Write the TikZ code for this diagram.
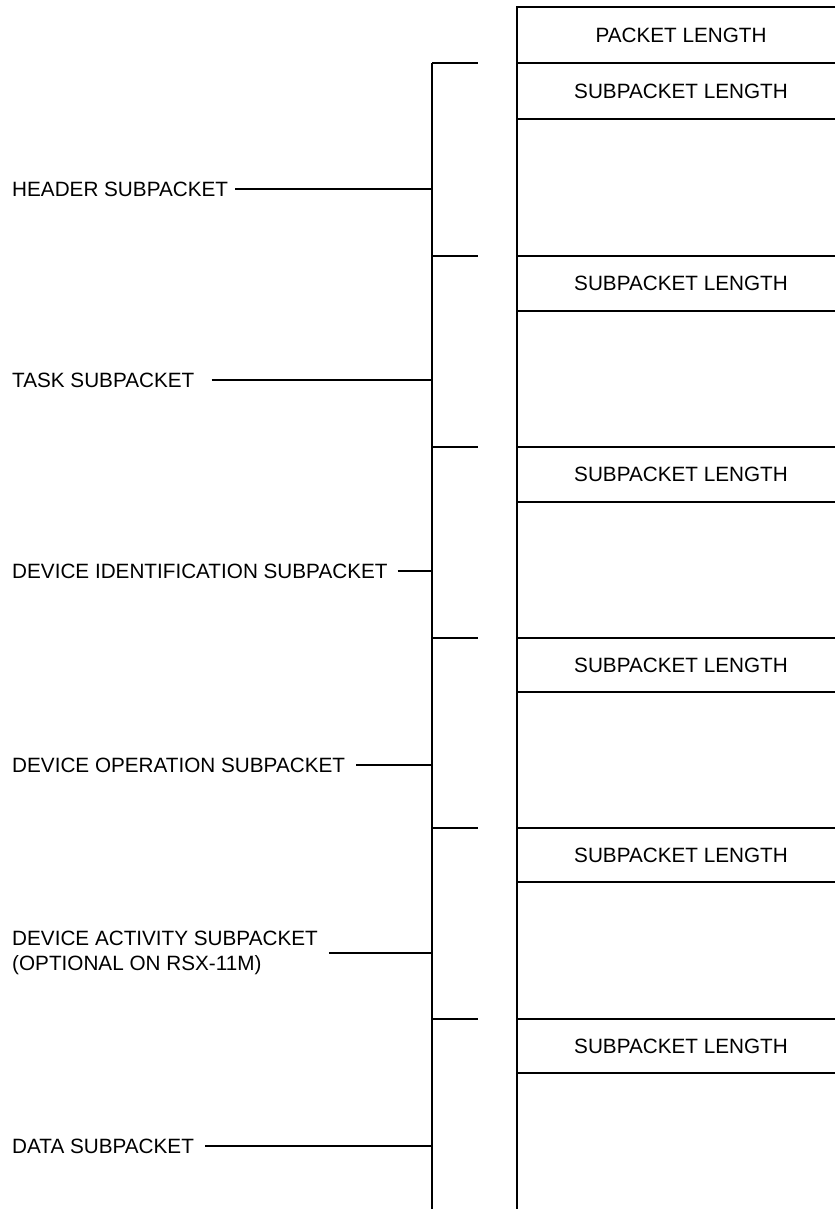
\documentclass[tikz,border=0pt]{standalone}
\usepackage{fontspec}
\setmainfont{Liberation Sans}
\usetikzlibrary{positioning}

\begin{document}
\begin{tikzpicture}[
  x=1pt, y=-1pt,
  every node/.style={font=\fontsize{20.7}{25}\selectfont, inner sep=0pt},
  lbl/.style={anchor=west, align=left},
  fld/.style={anchor=center},
  ln/.style={line width=1.9pt}
]
\useasboundingbox (0,0) rectangle (835,1209);

% packet frame (open to the right)
\draw[ln] (835,7) -- (517,7) -- (517,1209);
\foreach \y in {63,119,256,311,447,502,638,692,828,882,1019,1073}
  \draw[ln] (517,\y) -- (835,\y);

% fields
\node[fld] (pktlen) at (681,35) {PACKET LENGTH};
\foreach \y/\n in {91/sp1, 283.5/sp2, 474.5/sp3, 665/sp4, 855/sp5, 1046/sp6}
  \node[fld] (\n) at (681,\y) {SUBPACKET LENGTH};

% bracket
\coordinate (brk) at (432,63);
\coordinate (brkend) at (432,1209);
\draw[ln] (brk) -- (brkend);
\foreach \y in {63,256,447,638,828,1019}
  \draw[ln] (432,\y) -- (478,\y);

% subpacket labels
\node[lbl] (hdr)   at (12,189)  {HEADER SUBPACKET};
\node[lbl] (task)  at (12,380)  {TASK SUBPACKET};
\node[lbl] (devid) at (12,571)  {DEVICE IDENTIFICATION SUBPACKET};
\node[lbl] (devop) at (12,765)  {DEVICE OPERATION SUBPACKET};
\node[lbl] (devac) at (12,953)  {DEVICE ACTIVITY SUBPACKET\\(OPTIONAL ON RSX-11M)};
\node[lbl] (data)  at (12,1146) {DATA SUBPACKET};

% leaders to the bracket
\foreach \n/\g in {hdr/7, task/17, devid/10, devop/11, devac/11, data/11}
  \draw[ln, shorten <=\g pt] (\n.east) -- (\n.east -| brk);

\end{tikzpicture}
\end{document}
